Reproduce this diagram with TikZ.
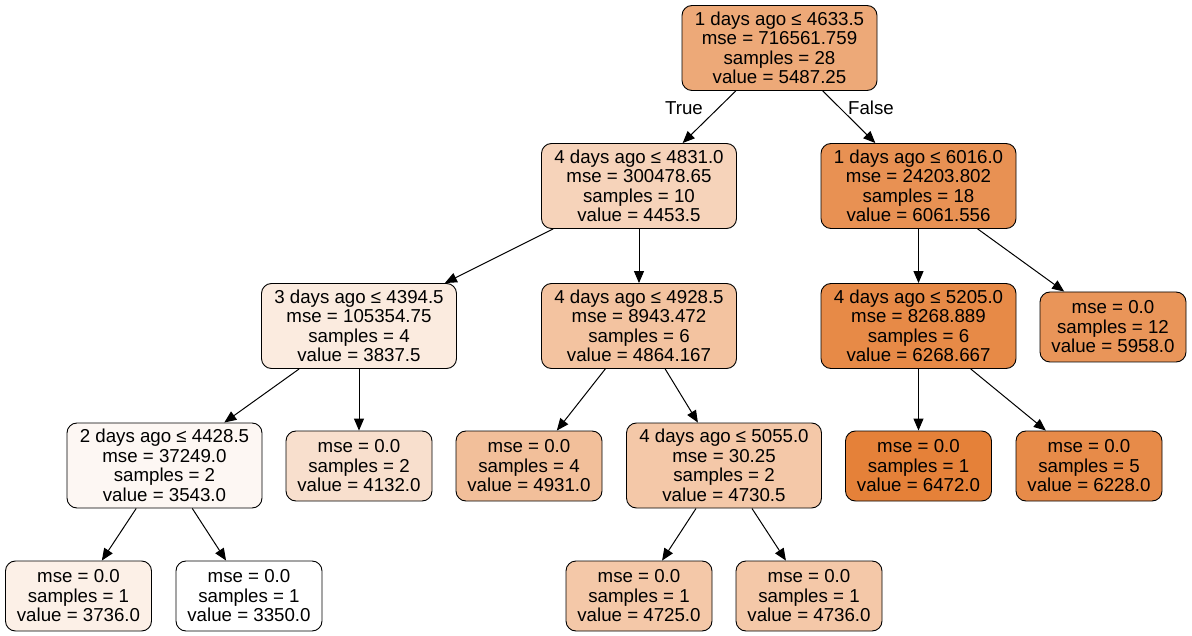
\documentclass[tikz,border=0pt]{standalone}
\usepackage{fontspec}
\setmainfont{Liberation Sans}
\usetikzlibrary{arrows.meta}
\definecolor{treeor}{RGB}{229,129,57}
\begin{document}
\begin{tikzpicture}[x=1pt,y=-1pt,
  box/.style={draw=black, rounded corners=10pt, align=center, inner sep=0pt,
    font=\fontsize{18.7}{19.5}\selectfont, line width=0.9pt},
  split/.style={box, minimum width=195pt, minimum height=85pt},
  leaf/.style={box, minimum width=146pt, minimum height=70pt},
  edge/.style={draw=black, line width=1pt, -{Triangle[length=12pt,width=10pt]}},
  lbl/.style={font=\fontsize{18.7}{19.5}\selectfont}]
\useasboundingbox (0,0) rectangle (1192,636);
\node[split, fill=treeor!68!white] (n0) at (779.5,48) {1 days ago ≤ 4633.5\\mse = 716561.759\\samples = 28\\value = 5487.25};
\node[split, fill=treeor!35!white] (n1) at (639,186) {4 days ago ≤ 4831.0\\mse = 300478.65\\samples = 10\\value = 4453.5};
\node[split, fill=treeor!87!white] (n2) at (918.5,186) {1 days ago ≤ 6016.0\\mse = 24203.802\\samples = 18\\value = 6061.556};
\node[split, fill=treeor!16!white] (n3) at (359,326) {3 days ago ≤ 4394.5\\mse = 105354.75\\samples = 4\\value = 3837.5};
\node[split, fill=treeor!48!white] (n4) at (639,326) {4 days ago ≤ 4928.5\\mse = 8943.472\\samples = 6\\value = 4864.167};
\node[split, fill=treeor!93!white] (n5) at (918.5,326) {4 days ago ≤ 5205.0\\mse = 8268.889\\samples = 6\\value = 6268.667};
\node[leaf, fill=treeor!84!white] (n6) at (1113,327) {mse = 0.0\\samples = 12\\value = 5958.0};
\node[split, fill=treeor!6!white] (n7) at (164.5,465.5) {2 days ago ≤ 4428.5\\mse = 37249.0\\samples = 2\\value = 3543.0};
\node[leaf, fill=treeor!25!white] (n8) at (359,466) {mse = 0.0\\samples = 2\\value = 4132.0};
\node[leaf, fill=treeor!51!white] (n9) at (529,466) {mse = 0.0\\samples = 4\\value = 4931.0};
\node[split, fill=treeor!44!white] (n10) at (724,465.5) {4 days ago ≤ 5055.0\\mse = 30.25\\samples = 2\\value = 4730.5};
\node[leaf, fill=treeor] (n11) at (918.5,466) {mse = 0.0\\samples = 1\\value = 6472.0};
\node[leaf, fill=treeor!92!white] (n12) at (1089,466) {mse = 0.0\\samples = 5\\value = 6228.0};
\node[leaf, fill=treeor!12!white] (n13) at (78.5,596) {mse = 0.0\\samples = 1\\value = 3736.0};
\node[leaf, fill=white] (n14) at (249,596) {mse = 0.0\\samples = 1\\value = 3350.0};
\node[leaf, fill=treeor!44!white] (n15) at (639,596) {mse = 0.0\\samples = 1\\value = 4725.0};
\node[leaf, fill=treeor!44!white] (n16) at (809,596) {mse = 0.0\\samples = 1\\value = 4736.0};
\draw[edge] (n0) -- (n1);
\draw[edge] (n0) -- (n2);
\draw[edge] (n1) -- (n3);
\draw[edge] (n1) -- (n4);
\draw[edge] (n2) -- (n5);
\draw[edge] (n2) -- (n6);
\draw[edge] (n3) -- (n7);
\draw[edge] (n3) -- (n8);
\draw[edge] (n4) -- (n9);
\draw[edge] (n4) -- (n10);
\draw[edge] (n5) -- (n11);
\draw[edge] (n5) -- (n12);
\draw[edge] (n7) -- (n13);
\draw[edge] (n7) -- (n14);
\draw[edge] (n10) -- (n15);
\draw[edge] (n10) -- (n16);
\node[lbl] (tl) at (684,108) {True};
\node[lbl] (fl) at (871,108) {False};
\end{tikzpicture}
\end{document}
